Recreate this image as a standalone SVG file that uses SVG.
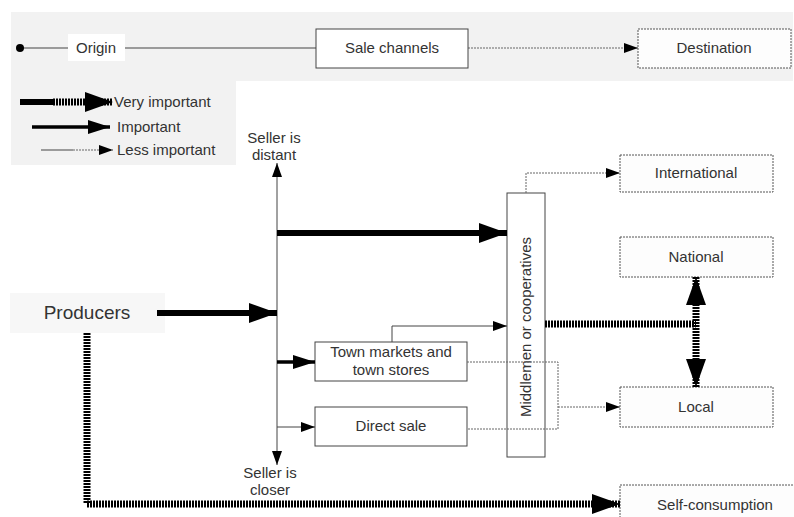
<svg xmlns="http://www.w3.org/2000/svg" width="794" height="517" viewBox="0 0 794 517">
  <defs>
    <marker id="bigHead" viewBox="0 0 28 20" refX="28" refY="10" markerWidth="28" markerHeight="20" markerUnits="userSpaceOnUse" orient="auto-start-reverse">
      <path d="M0,0 L28,10 L0,20 Z" fill="#000"/>
    </marker>
    <marker id="midHead" viewBox="0 0 22 14" refX="22" refY="7" markerWidth="22" markerHeight="14" markerUnits="userSpaceOnUse" orient="auto">
      <path d="M0,0 L22,7 L0,14 Z" fill="#000"/>
    </marker>
    <marker id="smallHead" viewBox="0 0 14 10" refX="14" refY="5" markerWidth="14" markerHeight="10" markerUnits="userSpaceOnUse" orient="auto-start-reverse">
      <path d="M0,0 L14,5 L0,10 Z" fill="#000"/>
    </marker>
  </defs>
  <style>
    text { font-family: "Liberation Sans", Arial, sans-serif; font-size: 15px; fill: #333; }
    .big { font-size: 19px; }
    .box { fill: #fff; stroke: #444; stroke-width: 1; }
    .dbox { fill: #fdfdfd; stroke: #555; stroke-width: 1; stroke-dasharray: 2 1; }
    .thin { fill: none; stroke: #444; stroke-width: 1; }
    .dot { fill: none; stroke: #666; stroke-width: 1; stroke-dasharray: 2 1; }
    .heavy { fill: none; stroke: #000; stroke-width: 6; }
    .mid { fill: none; stroke: #000; stroke-width: 3.5; }
    .hatch { fill: none; stroke: #000; stroke-width: 7; stroke-dasharray: 2 1; }
  </style>

  <!-- key strip: origin, channel, destination -->
  <g id="key-strip">
    <rect x="11" y="12" width="782" height="69" fill="#f2f2f2"/>
    <line class="thin" x1="20" y1="48" x2="316" y2="48"/>
    <circle cx="20" cy="48" r="4" fill="#000"/>
    <line class="dot" x1="468" y1="48" x2="638" y2="48" marker-end="url(#smallHead)"/>
  </g>
  <g id="origin">
    <rect x="68" y="34" width="57" height="27" fill="#fff"/>
    <text x="96" y="53" text-anchor="middle">Origin</text>
  </g>
  <g id="sale-channels">
    <rect class="box" x="316" y="29" width="152" height="39"/>
    <text x="392" y="53" text-anchor="middle">Sale channels</text>
  </g>
  <g id="destination">
    <rect class="dbox" x="638" y="29" width="153" height="39"/>
    <text x="714" y="53" text-anchor="middle">Destination</text>
  </g>

  <!-- importance legend -->
  <g id="legend">
    <rect x="11" y="81" width="225" height="84" fill="#f2f2f2"/>
    <line class="heavy" x1="20" y1="102" x2="53" y2="102"/>
    <line class="hatch" x1="53" y1="102" x2="113" y2="102" marker-end="url(#bigHead)"/>
    <text x="114" y="107">Very important</text>
    <line class="mid" x1="32" y1="127" x2="110" y2="127" marker-end="url(#midHead)"/>
    <text x="117" y="132">Important</text>
    <line class="thin" x1="41" y1="150" x2="73" y2="150"/>
    <line class="dot" x1="73" y1="150" x2="113" y2="150" marker-end="url(#smallHead)"/>
    <text x="117" y="155">Less important</text>
  </g>

  <!-- distance axis -->
  <g id="axis">
    <line class="thin" x1="277" y1="163" x2="277" y2="465" marker-start="url(#smallHead)" marker-end="url(#smallHead)"/>
    <text x="274" y="143" text-anchor="middle">Seller is</text>
    <text x="274" y="160" text-anchor="middle">distant</text>
    <text x="270" y="478" text-anchor="middle">Seller is</text>
    <text x="270" y="495" text-anchor="middle">closer</text>
  </g>

  <!-- nodes -->
  <g id="producers">
    <rect x="10" y="293" width="155" height="40" fill="#f7f7f7"/>
    <text class="big" x="87" y="319" text-anchor="middle">Producers</text>
  </g>
  <g id="middlemen">
    <rect class="box" x="507" y="193" width="38" height="264"/>
    <text x="0" y="0" text-anchor="middle" transform="translate(531 327) rotate(-90)">Middlemen or cooperatives</text>
  </g>
  <g id="town-markets">
    <rect class="box" x="315" y="342" width="152" height="39"/>
    <text x="391" y="357" text-anchor="middle">Town markets and</text>
    <text x="391" y="375" text-anchor="middle">town stores</text>
  </g>
  <g id="direct-sale">
    <rect class="box" x="315" y="407" width="152" height="39"/>
    <text x="391" y="431" text-anchor="middle">Direct sale</text>
  </g>
  <g id="international">
    <rect class="dbox" x="620" y="155" width="153" height="37"/>
    <text x="696" y="178" text-anchor="middle">International</text>
  </g>
  <g id="national">
    <rect class="dbox" x="620" y="237" width="153" height="40"/>
    <text x="696" y="262" text-anchor="middle">National</text>
  </g>
  <g id="local">
    <rect class="dbox" x="620" y="387" width="153" height="40"/>
    <text x="696" y="412" text-anchor="middle">Local</text>
  </g>
  <g id="self-consumption">
    <rect class="dbox" x="620" y="485" width="176" height="40"/>
    <text x="715" y="510" text-anchor="middle">Self-consumption</text>
  </g>

  <!-- connectors -->
  <g id="connectors">
    <line class="heavy" x1="157" y1="313" x2="277" y2="313" marker-end="url(#bigHead)"/>
    <line class="heavy" x1="277" y1="233" x2="507" y2="233" marker-end="url(#bigHead)"/>
    <line class="mid" x1="277" y1="362" x2="315" y2="362" marker-end="url(#midHead)"/>
    <line class="thin" x1="277" y1="427" x2="315" y2="427" marker-end="url(#smallHead)"/>
    <polyline class="thin" points="392,342 392,326 507,326" marker-end="url(#smallHead)"/>
    <polyline class="dot" points="526,193 526,173 620,173" marker-end="url(#smallHead)"/>
    <line class="hatch" x1="545" y1="324" x2="696" y2="324"/>
    <line class="hatch" x1="696" y1="277" x2="696" y2="387" marker-start="url(#bigHead)" marker-end="url(#bigHead)"/>
    <polyline class="dot" points="467,362 558,362 558,429 467,429"/>
    <line class="dot" x1="558" y1="407" x2="620" y2="407" marker-end="url(#smallHead)"/>
    <polyline class="hatch" points="87,333 87,504 620,504" marker-end="url(#bigHead)"/>
  </g>
</svg>
